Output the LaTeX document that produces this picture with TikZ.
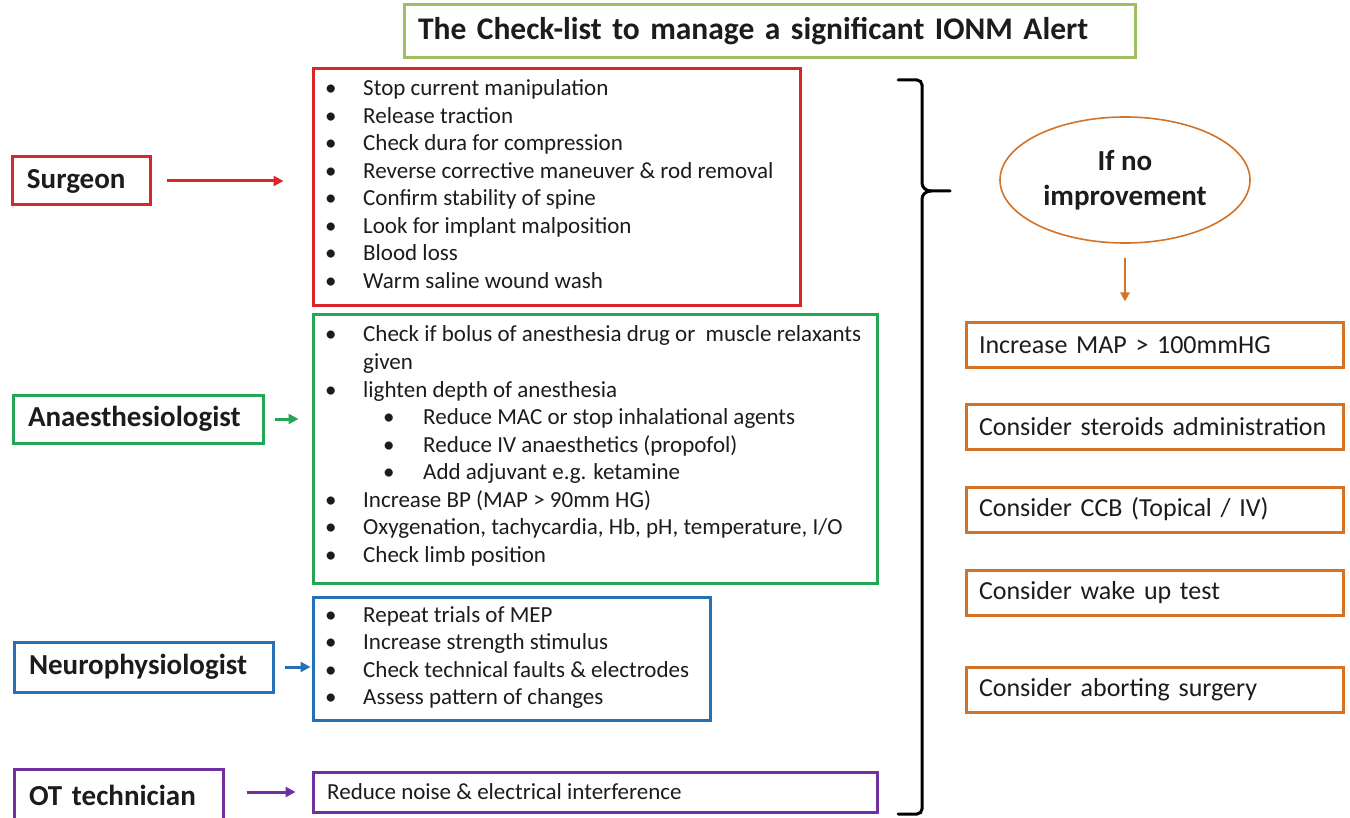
\documentclass[tikz,border=0pt]{standalone}
\usepackage{fontspec}
\setmainfont{Carlito}
\usetikzlibrary{arrows.meta,shapes.geometric}
\definecolor{cred}{RGB}{218,37,41}
\definecolor{cgreen}{RGB}{35,166,85}
\definecolor{cblue}{RGB}{38,112,183}
\definecolor{cpurple}{RGB}{112,48,160}
\definecolor{corange}{RGB}{210,115,40}
\definecolor{colive}{RGB}{160,190,100}
\definecolor{ctext}{RGB}{28,28,28}
\newcommand\blt[5]{%
  \node[itm] (#1b) at (#2,#4) {•};
  \node[itm] (#1) at (#3,#4) {#5};}
\begin{document}
\begin{tikzpicture}[x=1pt,y=-1pt,
  box/.style={draw=#1, line width=3pt, rectangle, inner sep=0pt, text=ctext},
  lab/.style={box=#1, font=\fontsize{29}{35}\selectfont\bfseries, align=left, inner xsep=15pt},
  lbox/.style={box=#1},
  obox/.style={box=corange, font=\fontsize{26}{31}\selectfont, align=left, inner xsep=13pt,
     text width=351pt, minimum height=45pt},
  itm/.style={anchor=base west, inner sep=0pt, text=ctext, font=\fontsize{23}{27.5}\selectfont},
  arr/.style={draw=#1, line width=3pt, -{Triangle[length=10pt,width=10pt]}},
]
\useasboundingbox[fill=white] (0,0) rectangle (1350,818);

% title
\node[box=colive, font=\fontsize{31.5}{36}\selectfont\bfseries, align=left, inner xsep=14pt,
      text width=703pt, minimum height=53pt] (title) at (769.5,31.5)
  {The Check-list to manage a significant IONM Alert};

% role labels
\node[lab=cred, text width=108pt, minimum height=48pt] (surg) at (81,181) {Surgeon};
\node[lab=cgreen, text width=220pt, minimum height=48pt] (anae) at (138,419) {Anaesthesiologist};
\node[lab=cblue, text width=229pt, minimum height=50pt] (neuro) at (143.5,667) {Neurophysiologist};
\node[lab=cpurple, text width=179pt, minimum height=52pt] (ot) at (118.5,795) {OT technician};

% list boxes
\node[lbox=cred, minimum width=487pt, minimum height=237pt] (slist) at (556.5,187.5) {};
\node[lbox=cgreen, minimum width=564pt, minimum height=268pt] (glist) at (595,449) {};
\node[lbox=cblue, minimum width=397pt, minimum height=123pt] (blist) at (511.5,658.5) {};
\node[lbox=cpurple, minimum width=564pt, minimum height=40pt] (plist) at (595,792) {};

% surgeon items
\blt{s1}{325}{363}{96}{Stop current manipulation}
\blt{s2}{325}{363}{123.5}{Release traction}
\blt{s3}{325}{363}{151}{Check dura for compression}
\blt{s4}{325}{363}{178.5}{Reverse corrective maneuver \& rod removal}
\blt{s5}{325}{363}{206}{Confirm stability of spine}
\blt{s6}{325}{363}{233.5}{Look for implant malposition}
\blt{s7}{325}{363}{261}{Blood loss}
\blt{s8}{325}{363}{288.5}{Warm saline wound wash}

% anaesthesiologist items
\blt{g1}{325}{363}{342}{Check if bolus of anesthesia drug or\ \ muscle relaxants}
\node[itm] (g1c) at (363,369.5) {given};
\blt{g2}{325}{363}{397}{lighten depth of anesthesia}
\blt{g3}{383}{423}{424.5}{Reduce MAC or stop inhalational agents}
\blt{g4}{383}{423}{452}{Reduce IV anaesthetics (propofol)}
\blt{g5}{383}{423}{479.5}{Add adjuvant e.g. ketamine}
\blt{g6}{325}{363}{507}{Increase BP (MAP > 90mm HG)}
\blt{g7}{325}{363}{534.5}{Oxygenation, tachycardia, Hb, pH, temperature, I/O}
\blt{g8}{325}{363}{562}{Check limb position}

% neurophysiologist items
\blt{b1}{325}{363}{622}{Repeat trials of MEP}
\blt{b2}{325}{363}{649.5}{Increase strength stimulus}
\blt{b3}{325}{363}{677}{Check technical faults \& electrodes}
\blt{b4}{325}{363}{704.5}{Assess pattern of changes}

% OT item
\node[itm] (p1) at (327,799.5) {Reduce noise \& electrical interference};

% arrows
\draw[arr=cred, shorten <=15pt, shorten >=28pt] (surg.east) -- (surg.east -| slist.west);
\draw[arr=cgreen, shorten <=10pt, shorten >=13pt] (anae.east) -- (anae.east -| glist.west);
\draw[arr=cblue, shorten <=10pt, shorten >=1pt] (neuro.east) -- (neuro.east -| blist.west);
\draw[arr=cpurple, shorten <=22pt, shorten >=16pt] (ot.east |- plist.west) -- (plist.west);

% brace
\coordinate (brtop) at (898,80);
\coordinate (brtip) at (950,191);
\coordinate (brbot) at (898,814);
\draw[line width=3pt, line cap=round]
  (brtop) -- (917,80) to[out=0,in=90] (922,85) -- (922,183)
  to[out=-90,in=180] (931,191) -- (brtip);
\draw[line width=3pt, line cap=round]
  (931,191) to[out=180,in=90] (922,199) -- (922,809)
  to[out=-90,in=0] (917,814) -- (brbot);

% right side
\node[ellipse, draw=corange, line width=1.6pt, minimum width=250pt, minimum height=126pt,
      inner sep=0pt, align=center, text=ctext, font=\fontsize{29}{35}\selectfont\bfseries]
  (ifno) at (1125,180) {If no\\improvement};
\node[obox] (o1) at (1154.5,345.5) {Increase MAP > 100mmHG};
\node[obox] (o2) at (1154.5,427) {Consider steroids administration};
\node[obox] (o3) at (1154.5,509.5) {Consider CCB (Topical / IV)};
\node[obox] (o4) at (1154.5,592.5) {Consider wake up test};
\node[obox] (o5) at (1154.5,689.5) {Consider aborting surgery};
\draw[draw=corange, line width=2.5pt, -{Triangle[length=9pt,width=9pt]},
      shorten <=14pt, shorten >=20pt] (ifno.south) -- (ifno.south |- o1.north);
\end{tikzpicture}
\end{document}
